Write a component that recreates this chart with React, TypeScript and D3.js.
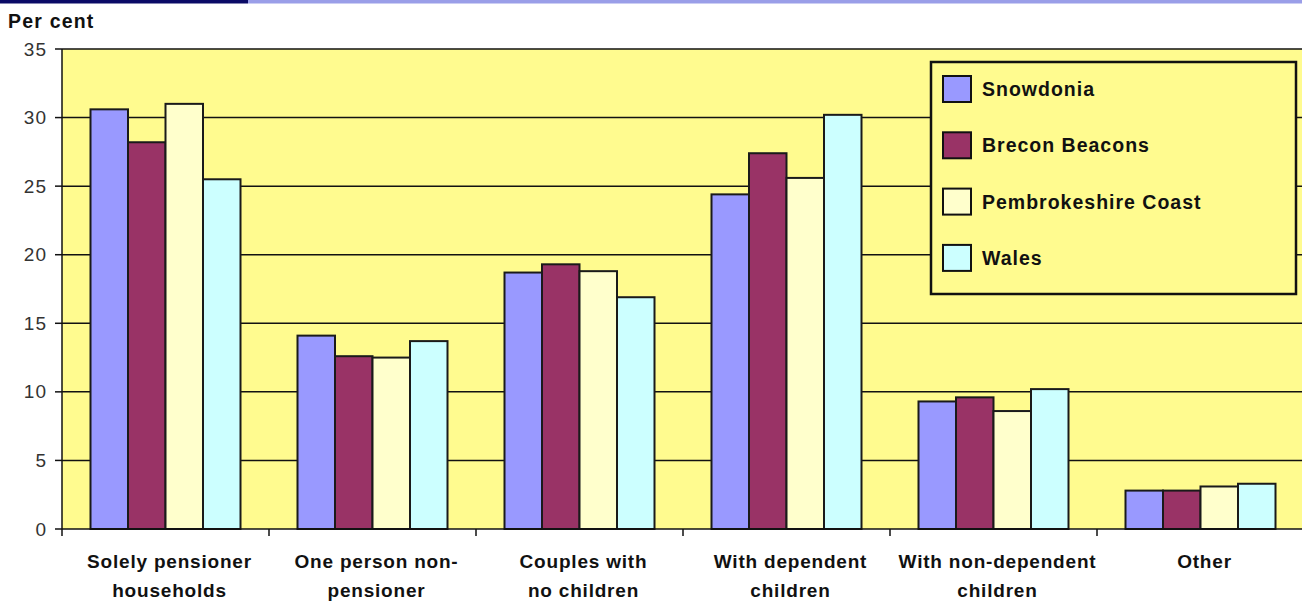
import React from "react";
import * as d3 from "d3";

const categories = [
  ["Solely pensioner", "households"],
  ["One person non-", "pensioner"],
  ["Couples with", "no children"],
  ["With dependent", "children"],
  ["With non-dependent", "children"],
  ["Other", ""],
];
const seriesNames = ["Snowdonia", "Brecon Beacons", "Pembrokeshire Coast", "Wales"];
const seriesColors = ["#9999FF", "#993366", "#FFFFCC", "#CCFFFF"];
const snowdonia = [30.6, 14.1, 18.7, 24.4, 9.3, 2.8];
const brecon = [28.2, 12.6, 19.3, 27.4, 9.6, 2.8];
const pembrokeshire = [31.0, 12.5, 18.8, 25.6, 8.6, 3.1];
const wales = [25.5, 13.7, 16.9, 30.2, 10.2, 3.3];
const yTicks = [0, 5, 10, 15, 20, 25, 30, 35];

const seriesValues = [snowdonia, brecon, pembrokeshire, wales];

export default function App() {
  const W = 1302;
  const H = 601;
  const left = 62;
  const right = 1304;
  const top = 49;
  const bottom = 529;
  const font = "'Liberation Sans', Arial, sans-serif";
  const bg = "#FFFB8F";

  const y = d3.scaleLinear().domain([0, 35]).range([bottom, top]);
  const x = d3
    .scaleBand<number>()
    .domain(categories.map((_, i) => i))
    .range([left, right])
    .padding(0);
  const step = x.bandwidth();
  const inner = d3
    .scaleBand<number>()
    .domain(seriesNames.map((_, i) => i))
    .range([28.5, step - 28.5])
    .padding(0);

  return (
    <svg
      width={W}
      height={H}
      style={{ position: "absolute", left: 0, top: 0, display: "block" }}
    >
      <rect x={0} y={0} width={W} height={H} fill="#ffffff" />
      <rect x={0} y={0} width={248} height={3.5} fill="#0a0a66" />
      <rect x={248} y={0} width={W - 248} height={3.5} fill="#9a9ee8" />
      <text x={8} y={28} fontFamily={font} fontWeight="bold" fontSize={19.5} letterSpacing={1.2} fill="#111">
        Per cent
      </text>
      <rect x={left} y={top} width={right - left} height={bottom - top} fill={bg} />
      {yTicks.map((t) => (
        <g key={t}>
          {t > 0 && (
            <line x1={left} x2={right} y1={y(t)} y2={y(t)} stroke="#111" strokeWidth={1.5} />
          )}
          <line x1={left - 7} x2={left} y1={y(t)} y2={y(t)} stroke="#111" strokeWidth={1.5} />
          <text
            x={47}
            y={y(t) + 6.5}
            textAnchor="end"
            fontFamily={font}
            fontSize={19}
            letterSpacing={1}
            fill="#333"
          >
            {t}
          </text>
        </g>
      ))}
      {categories.map((_, ci) =>
        seriesValues.map((vals, si) => {
          const x0 = (x(ci) as number) + (inner(si) as number);
          return (
            <rect
              key={`${ci}-${si}`}
              x={x0}
              y={y(vals[ci])}
              width={inner.bandwidth()}
              height={bottom - y(vals[ci])}
              fill={seriesColors[si]}
              stroke="#1a1a1a"
              strokeWidth={2}
            />
          );
        })
      )}
      <line x1={left} x2={left} y1={top} y2={bottom} stroke="#111" strokeWidth={1.5} />
      <line x1={left} x2={right} y1={bottom} y2={bottom} stroke="#111" strokeWidth={1.5} />
      {categories.map((_, i) => (
        <line
          key={i}
          x1={(x(i) as number)}
          x2={(x(i) as number)}
          y1={bottom}
          y2={bottom + 7}
          stroke="#111"
          strokeWidth={1.5}
        />
      ))}
      {categories.map((lines, i) => {
        const cx = (x(i) as number) + step / 2 + 4;
        return (
          <text
            key={i}
            textAnchor="middle"
            fontFamily={font}
            fontWeight="bold"
            fontSize={19}
            letterSpacing={0.8}
            fill="#111"
          >
            <tspan x={cx} y={568}>
              {lines[0]}
            </tspan>
            <tspan x={cx} y={597}>
              {lines[1]}
            </tspan>
          </text>
        );
      })}
      <g>
        <rect x={931} y={62} width={365} height={232} fill={bg} stroke="#111" strokeWidth={2.5} />
        {seriesNames.map((n, i) => {
          const cy = 89 + i * 56.3;
          return (
            <g key={n}>
              <rect
                x={943}
                y={cy - 13}
                width={28}
                height={26}
                fill={seriesColors[i]}
                stroke="#111"
                strokeWidth={2}
              />
              <text
                x={982}
                y={cy + 7}
                fontFamily={font}
                fontWeight="bold"
                fontSize={19.5}
                letterSpacing={1}
                fill="#111"
              >
                {n}
              </text>
            </g>
          );
        })}
      </g>
    </svg>
  );
}
